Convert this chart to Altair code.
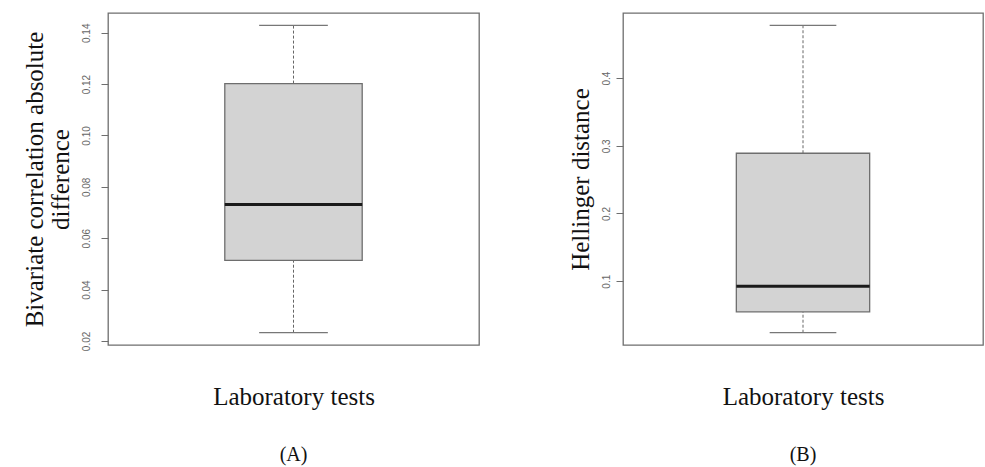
import altair as alt
import pandas as pd

# Summary statistics of each boxplot (one box per panel)
panel_tags = ["(A)", "(B)"]
y_titles = [["Bivariate correlation absolute", "difference"], "Hellinger distance"]
x_title = "Laboratory tests"
lower_whisker = [0.0232, 0.0239]
lower_hinge = [0.0514, 0.0548]
medians = [0.0731, 0.0926]
upper_hinge = [0.1202, 0.289]
upper_whisker = [0.1429, 0.478]
y_tick_values = [[0.02, 0.04, 0.06, 0.08, 0.10, 0.12, 0.14], [0.1, 0.2, 0.3, 0.4]]
y_label_formats = [".2f", ".1f"]
panel_widths = [371, 360]
label_paddings = [10, 5]

SERIF = "Liberation Serif"
SANS = "Liberation Sans"
FRAME = "#6e6e6e"


def panel(i):
    df = pd.DataFrame({
        "pos": [1.0],
        "lw": [lower_whisker[i]],
        "q1": [lower_hinge[i]],
        "med": [medians[i]],
        "q3": [upper_hinge[i]],
        "uw": [upper_whisker[i]],
    })
    # R-style axis range: data range stretched by 4% on each side
    lo, hi = lower_whisker[i], upper_whisker[i]
    pad = 0.04 * (hi - lo)
    y_scale = alt.Scale(domain=[lo - pad, hi + pad], nice=False, zero=False)
    x_scale = alt.Scale(domain=[0.46, 1.54], nice=False, zero=False)
    x_axis = alt.Axis(
        title=x_title, ticks=False, labels=False, domain=False, grid=False,
        titleFont=SERIF, titleFontSize=25, titleFontWeight="normal",
        titleColor="#111", titlePadding=39,
    )
    y_axis = alt.Axis(
        title=y_titles[i], values=y_tick_values[i], format=y_label_formats[i],
        grid=False, domain=False, tickColor=FRAME, tickSize=7, tickWidth=1,
        labelAngle=-90, labelAlign="center", labelBaseline="bottom",
        labelFont=SANS, labelFontSize=10, labelColor="#666",
        labelPadding=label_paddings[i],
        titleFont=SERIF, titleFontSize=25, titleFontWeight="normal",
        titleColor="#111", titlePadding=8, titleLineHeight=26,
    )

    def X(field):
        return alt.X(field, type="quantitative", scale=x_scale, axis=x_axis)

    def Y(field):
        return alt.Y(field, type="quantitative", scale=y_scale, axis=y_axis)

    base = alt.Chart(df).transform_calculate(
        bx1="datum.pos - 0.2", bx2="datum.pos + 0.2",
        cx1="datum.pos - 0.1", cx2="datum.pos + 0.1",
    )

    whisker_hi = base.mark_rule(color="#666", strokeWidth=1, strokeDash=[3, 2]).encode(
        x=X("pos"), y=Y("q3"), y2="uw")
    whisker_lo = base.mark_rule(color="#666", strokeWidth=1, strokeDash=[3, 2]).encode(
        x=X("pos"), y=Y("lw"), y2="q1")
    cap_hi = base.mark_rule(color="#777", strokeWidth=1.2).encode(
        x=X("cx1"), x2="cx2", y=Y("uw"))
    cap_lo = base.mark_rule(color="#777", strokeWidth=1.2).encode(
        x=X("cx1"), x2="cx2", y=Y("lw"))
    box = base.mark_rect(fill="#d3d3d3", stroke=FRAME, strokeWidth=1.3).encode(
        x=X("bx1"), x2="bx2", y=Y("q1"), y2="q3")
    mid = base.mark_rule(color="#1a1a1a", strokeWidth=3).encode(
        x=X("bx1"), x2="bx2", y=Y("med"))

    return alt.layer(whisker_hi, whisker_lo, cap_hi, cap_lo, box, mid).properties(
        width=panel_widths[i], height=332,
        title=alt.TitleParams(
            panel_tags[i], orient="bottom", anchor="middle", frame="group",
            font=SERIF, fontSize=20, fontWeight="normal", color="#111", offset=36,
        ),
    )


chart = alt.hconcat(panel(0), panel(1), spacing=87).properties(
    padding={"left": 21, "top": 12, "right": 0, "bottom": 0},
).configure_view(
    stroke=FRAME, strokeWidth=1.3,
)

chart.save("out.html", embed_options={"renderer": "svg", "actions": False})
